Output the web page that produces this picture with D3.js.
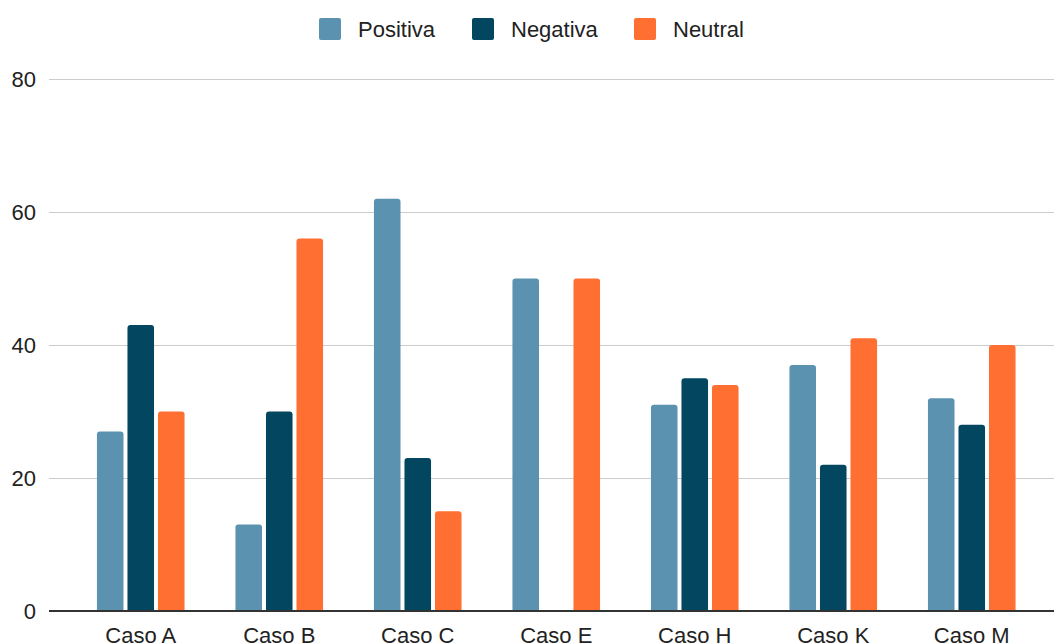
<!DOCTYPE html>
<html>
<head>
<meta charset="utf-8">
<script src="https://cdn.jsdelivr.net/npm/d3@7"></script>
<style>
  html, body { margin: 0; padding: 0; background: #ffffff; }
  svg { display: block; font-family: "Liberation Sans", Arial, sans-serif; }
</style>
</head>
<body>
<svg id="chart" width="1054" height="644"></svg>
<script>
// Categories and series
const categories = ["Caso A", "Caso B", "Caso C", "Caso E", "Caso H", "Caso K", "Caso M"];
const seriesNames = ["Positiva", "Negativa", "Neutral"];
const positiva = [27, 13, 62, 50, 31, 37, 32];
const negativa = [43, 30, 23, 0, 35, 22, 28];
const neutral  = [30, 56, 15, 50, 34, 41, 40];
const yTicks = [0, 20, 40, 60, 80];
const colors = ["#5a92b0", "#03465f", "#ff6f31"];

const seriesValues = [positiva, negativa, neutral];

const svg = d3.select("#chart");

const plot = { left: 49, right: 1054, top: 79, bottom: 611 };

const y = d3.scaleLinear().domain([0, 80]).range([plot.bottom, plot.top]);

const x = d3.scaleBand()
  .domain(categories)
  .range([71.5, 1041])
  .paddingInner(0.3675)
  .paddingOuter(0.18375);

const xs = d3.scaleBand()
  .domain(seriesNames)
  .range([0, x.bandwidth()])
  .paddingInner(0.13);

// Gridlines
svg.append("g")
  .selectAll("line")
  .data(yTicks.filter(t => t !== 0))
  .join("line")
  .attr("x1", plot.left)
  .attr("x2", plot.right)
  .attr("y1", d => Math.round(y(d)) + 0.5)
  .attr("y2", d => Math.round(y(d)) + 0.5)
  .attr("stroke", "#cccccc")
  .attr("stroke-width", 1);

// Y tick labels
svg.append("g")
  .selectAll("text")
  .data(yTicks)
  .join("text")
  .attr("x", 36)
  .attr("y", d => y(d))
  .attr("dy", "0.36em")
  .attr("text-anchor", "end")
  .attr("font-size", 22)
  .attr("fill", "#222222")
  .text(d => d);

// Bars with rounded top corners
function barPath(x0, w, yTop, yBase, r) {
  const h = yBase - yTop;
  if (h <= 0) return "";
  const rr = Math.min(r, h, w / 2);
  return `M${x0},${yBase}V${yTop + rr}Q${x0},${yTop} ${x0 + rr},${yTop}` +
         `H${x0 + w - rr}Q${x0 + w},${yTop} ${x0 + w},${yTop + rr}V${yBase}Z`;
}

const groups = svg.append("g")
  .selectAll("g")
  .data(categories)
  .join("g")
  .attr("transform", d => `translate(${x(d)},0)`);

groups.selectAll("path")
  .data((c, i) => seriesNames.map((s, j) => ({ s, j, v: seriesValues[j][i] })))
  .join("path")
  .attr("d", d => barPath(xs(d.s), xs.bandwidth(), y(d.v), y(0), 3))
  .attr("fill", d => colors[d.j]);

// X axis baseline
svg.append("line")
  .attr("x1", plot.left)
  .attr("x2", plot.right)
  .attr("y1", y(0))
  .attr("y2", y(0))
  .attr("stroke", "#333333")
  .attr("stroke-width", 2);

// X labels
svg.append("g")
  .selectAll("text")
  .data(categories)
  .join("text")
  .attr("x", d => x(d) + x.bandwidth() / 2)
  .attr("y", 643)
  .attr("text-anchor", "middle")
  .attr("font-size", 22)
  .attr("fill", "#222222")
  .text(d => d);

// Legend
const legendX = [319, 472, 634];
const legend = svg.append("g")
  .selectAll("g")
  .data(seriesNames)
  .join("g")
  .attr("transform", (d, i) => `translate(${legendX[i]},18)`);

legend.append("rect")
  .attr("width", 22)
  .attr("height", 22)
  .attr("rx", 2)
  .attr("fill", (d, i) => colors[i]);

legend.append("text")
  .attr("x", 39)
  .attr("y", 19)
  .attr("font-size", 22)
  .attr("fill", "#222222")
  .text(d => d);
</script>
</body>
</html>
